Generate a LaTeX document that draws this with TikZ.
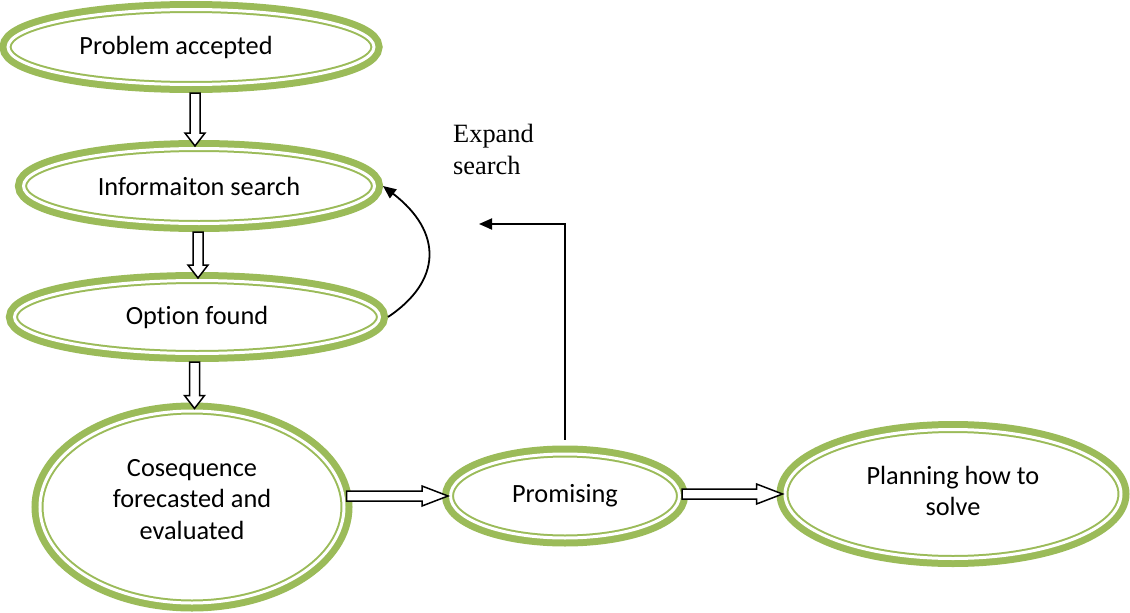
\documentclass[tikz,border=0pt]{standalone}
\usepackage{fontspec}
\setmainfont{Carlito}[Ligatures=NoCommon]
\newfontfamily\timesfont{Liberation Serif}
\usetikzlibrary{arrows.meta,shapes.geometric,calc}
\definecolor{leaf}{HTML}{9BBB59}

\newcommand{\downblock}[2]{%
  \draw[blockarrow] let \p1=(#1.south), \p2=(#2.north), \p3=($(#1.south)!0.5!(#2.north)$) in
    (\x3-5pt,\y1) -- (\x3-5pt,\y2+7pt) -- (\x3-10pt,\y2+7pt) -- (\x3,\y2-6pt)
    -- (\x3+10pt,\y2+7pt) -- (\x3+5pt,\y2+7pt) -- (\x3+5pt,\y1) -- cycle;}
\newcommand{\rightblock}[2]{%
  \draw[blockarrow] let \p1=(#1.east), \p2=(#2.west) in
    (\x1-6pt,\y2+5pt) -- (\x2-20pt,\y2+5pt) -- (\x2-20pt,\y2+10pt) -- (\x2+6pt,\y2)
    -- (\x2-20pt,\y2-10pt) -- (\x2-20pt,\y2-5pt) -- (\x1-6pt,\y2-5pt) -- cycle;}

\begin{document}
\begin{tikzpicture}[x=1pt,y=-1pt,>={Triangle[length=13pt,width=11pt]}]
    \tikzstyle{stage}=[ellipse, fill=white, draw=leaf, line width=7pt, inner sep=0pt, outer sep=8.5pt, align=center, font=\fontsize{26.3}{31.5}\selectfont, preaction={draw=leaf, line width=17pt}, postaction={draw=white, line width=3pt}]
    \tikzstyle{blockarrow}=[draw=black, fill=white, line width=1.5pt, line join=miter]
    \tikzstyle{flow}=[draw=black, line width=1.8pt, ->]

    \useasboundingbox (0,0) rectangle (1130,613);

    \node[stage, minimum width=366pt, minimum height=75pt]  (accepted)  at (191,47)  {Problem accepted\hspace*{30pt}};
    \node[stage, minimum width=351pt, minimum height=75pt]  (search)    at (199,186) {Informaiton search};
    \node[stage, minimum width=365pt, minimum height=73pt]  (option)    at (197,317) {Option found};
    \node[stage, minimum width=304pt, minimum height=192pt] (forecast)  at (192,507) {Cosequence\\forecasted and\\evaluated\rule[-16pt]{0pt}{0pt}};
    \node[stage, minimum width=229pt, minimum height=84pt]  (promising) at (565,496) {Promising};
    \node[stage, minimum width=336pt, minimum height=129pt] (planning)  at (953,494) {Planning how to\\solve\rule[-6pt]{0pt}{0pt}};

    \node[anchor=north west, inner sep=0pt, align=left, font=\timesfont\fontsize{26.4}{31.7}\selectfont] (expandlabel) at (453,124) {Expand\\search};
    \coordinate (expandtip) at (479,224);

    \downblock{accepted}{search}
    \downblock{search}{option}
    \downblock{option}{forecast}
    \rightblock{forecast}{promising}
    \rightblock{promising}{planning}

    \draw[flow] (option.east) .. controls ($(option.east)+(54,-36)$) and ($(search.east)+(60,46)$) .. (search.east);
    \draw[flow] ([yshift=6pt]promising.north) |- (expandtip);

\end{tikzpicture}
\end{document}
